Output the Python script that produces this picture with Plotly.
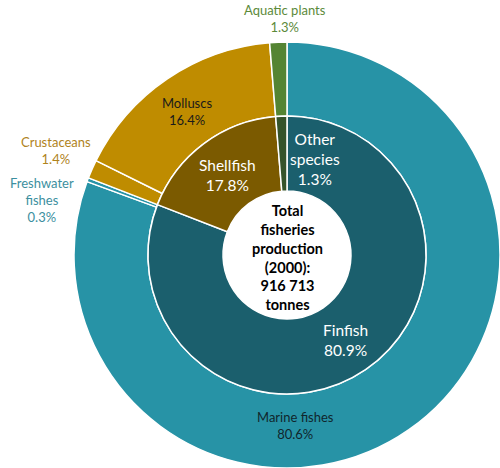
import plotly.graph_objects as go

# Total fisheries production (2000), share by group
inner_labels = ["Finfish", "Shellfish", "Other species"]
inner_values = [80.9, 17.8, 1.3]

outer_labels = ["Marine fishes", "Freshwater fishes", "Crustaceans", "Molluscs", "Aquatic plants"]
outer_values = [80.6, 0.3, 1.4, 16.4, 1.3]

total_text = "Total<br>fisheries<br>production<br>(2000):<br>916 713<br>tonnes"

inner_colors = ["#1b5f6d", "#7b5a00", "#35532a"]
outer_colors = ["#2793a6", "#2793a6", "#bf8c00", "#bf8c00", "#548433"]

W, H = 500, 468
FONT = "Lato"

fig = go.Figure()

fig.add_trace(go.Pie(
    values=outer_values, labels=outer_labels,
    sort=False, direction="clockwise", rotation=0,
    hole=139 / 213,
    marker=dict(colors=outer_colors, line=dict(color="white", width=1.5)),
    textinfo="none", hoverinfo="label+percent", showlegend=False,
    domain=dict(x=[74 / W, 500 / W], y=[0, 426 / H]),
))

fig.add_trace(go.Pie(
    values=inner_values, labels=inner_labels,
    sort=False, direction="clockwise", rotation=0,
    hole=64 / 139,
    marker=dict(colors=inner_colors, line=dict(color="white", width=1.5)),
    textinfo="none", hoverinfo="label+percent", showlegend=False,
    domain=dict(x=[148 / W, 426 / W], y=[74 / H, 352 / H]),
))

# label placement in pixels (x centre, y centre), colour, display name, font size
outer_label_style = {
    "Marine fishes": (295, 425, "#10262c", "Marine fishes", 13),
    "Freshwater fishes": (42, 200, "#3c8fa0", "Freshwater<br>fishes", 13),
    "Crustaceans": (56, 151, "#b0831c", "Crustaceans", 13),
    "Molluscs": (187, 111, "#1a1a1a", "Molluscs", 13),
    "Aquatic plants": (285, 19, "#5c8a3a", "Aquatic plants", 13),
}
inner_label_style = {
    "Finfish": (345, 340, "white", "Finfish", 15.5),
    "Shellfish": (227, 175, "white", "Shellfish", 15.5),
    "Other species": (315, 159, "white", "Other<br>species", 15.5),
}

def add_label(style, value):
    x, y, color, name, size = style
    fig.add_annotation(
        x=x / W, y=1 - y / H, xref="paper", yref="paper",
        text=f"{name}<br>{value}%", showarrow=False,
        xanchor="center", yanchor="middle", align="center",
        font=dict(family=FONT, size=size, color=color),
    )

for lab, val in zip(outer_labels, outer_values):
    add_label(outer_label_style[lab], val)
for lab, val in zip(inner_labels, inner_values):
    add_label(inner_label_style[lab], val)

fig.add_annotation(
    x=287 / W, y=1 - 257 / H, xref="paper", yref="paper",
    text=f"<b>{total_text}</b>", showarrow=False,
    xanchor="center", yanchor="middle", align="center",
    font=dict(family=FONT, size=14.5, color="black"),
)

fig.update_layout(
    width=W, height=H, autosize=False,
    margin=dict(l=0, r=0, t=0, b=0),
    paper_bgcolor="white", plot_bgcolor="white",
    font=dict(family=FONT),
)

fig.write_html("out.html")
